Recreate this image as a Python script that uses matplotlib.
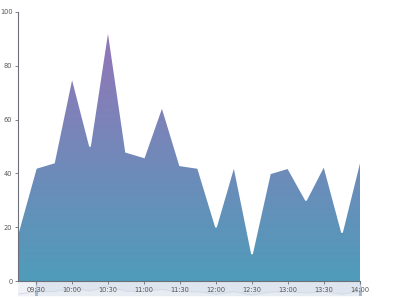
import numpy as np
import pandas as pd
import matplotlib
matplotlib.use("Agg")
import matplotlib.pyplot as plt
import matplotlib.dates as mdates
from matplotlib.colors import LinearSegmentedColormap

times = ["09:15", "09:30", "09:45", "10:00", "10:15", "10:30", "10:45", "11:00",
         "11:15", "11:30", "11:45", "12:00", "12:15", "12:30", "12:45", "13:00",
         "13:15", "13:30", "13:45", "14:00"]
values = [18, 42, 44, 76, 50, 94, 48, 46, 65, 43, 42, 20, 43, 10, 40, 42, 30, 43, 18, 45]
tick_labels = ["09:30", "10:00", "10:30", "11:00", "11:30", "12:00", "12:30", "13:00", "13:30", "14:00"]
y_ticks = [0, 20, 40, 60, 80, 100]

x = mdates.date2num(pd.to_datetime(["2024-01-01 " + t for t in times]))
xt = mdates.date2num(pd.to_datetime(["2024-01-01 " + t for t in tick_labels]))

fig = plt.figure(figsize=(4, 3), dpi=100)
ax = fig.add_axes([0.045, 0.0633, 0.855, 0.8967])

cmap = LinearSegmentedColormap.from_list("grad", ["#4f9cba", "#9b72b8"])
poly = ax.fill_between(x, values, 0, color="none", lw=0)
grad = np.linspace(0, 1, 256).reshape(-1, 1)
img = ax.imshow(grad, cmap=cmap, aspect="auto", origin="lower",
                extent=[x[0], x[-1], 0, 100], zorder=1)
img.set_clip_path(poly.get_paths()[0], transform=ax.transData)
ax.plot(x, values, color="white", lw=1.2, zorder=2, solid_joinstyle="miter")

ax.set_xlim(x[0], x[-1])
ax.set_ylim(0, 100)
ax.set_yticks(y_ticks)
ax.set_xticks(xt)
ax.set_xticklabels(tick_labels)
for s in ["top", "right"]:
    ax.spines[s].set_visible(False)
ax.spines["left"].set_color("#6e7079")
ax.spines["bottom"].set_color("#6e7079")
ax.spines["left"].set_linewidth(0.8)
ax.spines["bottom"].set_linewidth(0.8)
ax.tick_params(axis="y", length=2.5, width=0.6, color="#6e7079", labelsize=4.8,
               labelcolor="#555555", pad=1.5)
ax.tick_params(axis="x", length=2.5, width=0.6, color="#6e7079", labelsize=4.8,
               labelcolor="#555555", pad=1.5)
ax.patch.set_alpha(0)

# data zoom slider
sl = fig.add_axes([0.045, 0.0133, 0.86, 0.047], zorder=-1)
sl.set_xlim(x[0], x[-1] + (x[-1] - x[0]) * 0.006)
sl.set_ylim(0, 140)
sl.axis("off")
sl.add_patch(plt.Rectangle((x[0], 0), x[-1] - x[0], 140, color="#eef1f5", lw=0))
sl.add_patch(plt.Rectangle((x[1], 0), x[-1] - x[1], 140, color="#dfe5ef", lw=0))
sl.fill_between(x, values, 0, color="#eef1f6", alpha=0.6, lw=0)
sl.plot(x, values, color="#d2d9e5", lw=0.6)
for hx in [x[1], x[-1]]:
    sl.plot([hx, hx], [0, 140], color="#b3c0d6", lw=1.0)
    sl.plot([hx, hx], [0, 45], color="#a7b7cc", lw=2.2)

fig.savefig("out.png", dpi=100)
